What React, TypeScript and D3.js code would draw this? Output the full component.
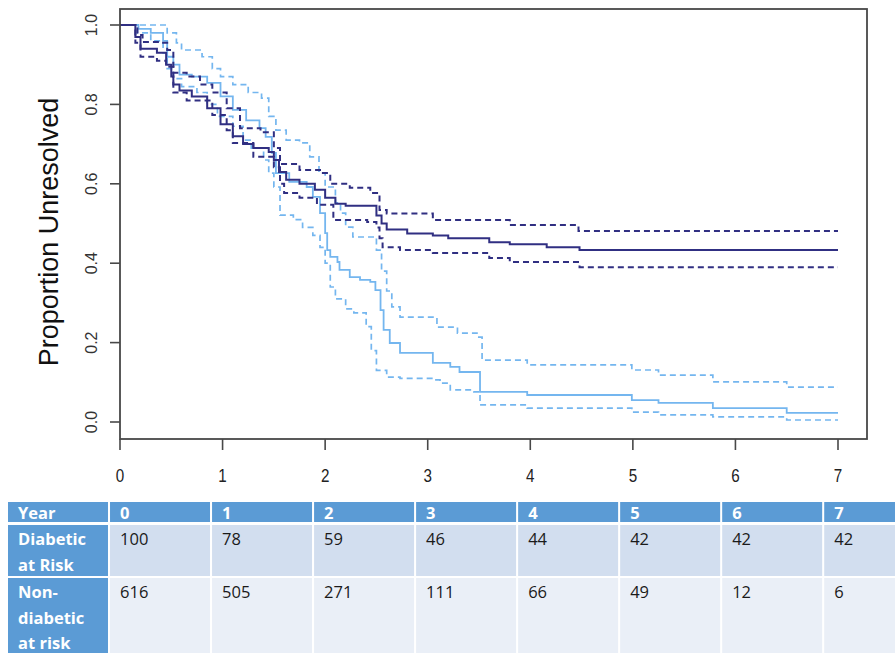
import React from "react";
import * as d3 from "d3";

// ---- axis ticks ----
const xTickValues = [0, 1, 2, 3, 4, 5, 6, 7];
const yTickValues = [0, 0.2, 0.4, 0.6, 0.8, 1.0];
const yTickLabels = ["0.0", "0.2", "0.4", "0.6", "0.8", "1.0"];

// ---- at-risk table ----
const tableYears = ["0", "1", "2", "3", "4", "5", "6", "7"];
const diabeticAtRisk = [100, 78, 59, 46, 44, 42, 42, 42];
const nonDiabeticAtRisk = [616, 505, 271, 111, 66, 49, 12, 6];
const rowLabels = [["Year"], ["Diabetic", "at Risk"], ["Non-", "diabetic", "at risk"]];

// ---- Kaplan-Meier curves: [year, proportion unresolved] ----
const diabeticEstimate: [number, number][] = [
  [0, 1.0], [0.15, 0.97], [0.2, 0.94], [0.36, 0.93], [0.45, 0.9], [0.5, 0.87], [0.52, 0.85],
  [0.58, 0.835], [0.7, 0.82], [0.85, 0.79], [0.98, 0.75], [1.1, 0.72], [1.2, 0.7], [1.3, 0.69],
  [1.45, 0.68], [1.5, 0.66], [1.55, 0.63], [1.62, 0.61], [1.75, 0.6], [1.9, 0.585], [2.0, 0.565],
  [2.1, 0.55], [2.2, 0.545], [2.5, 0.52], [2.55, 0.5], [2.6, 0.485], [2.8, 0.475], [3.05, 0.47],
  [3.2, 0.463], [3.6, 0.453], [3.8, 0.448], [4.16, 0.44], [4.48, 0.433], [7.0, 0.433],
];
const diabeticUpper: [number, number][] = [
  [0, 1.0], [0.17, 0.975], [0.22, 0.957], [0.39, 0.955], [0.46, 0.937], [0.52, 0.88], [0.65, 0.87],
  [0.78, 0.85], [0.9, 0.83], [1.04, 0.79], [1.17, 0.74], [1.37, 0.73], [1.5, 0.69], [1.56, 0.65],
  [1.75, 0.635], [1.95, 0.627], [2.05, 0.6], [2.24, 0.59], [2.44, 0.577], [2.53, 0.534],
  [2.6, 0.525], [3.05, 0.509], [3.8, 0.496], [4.47, 0.481], [7.0, 0.481],
];
const diabeticLower: [number, number][] = [
  [0, 1.0], [0.15, 0.955], [0.2, 0.92], [0.36, 0.91], [0.45, 0.895], [0.52, 0.83], [0.65, 0.81],
  [0.9, 0.773], [1.04, 0.735], [1.1, 0.703], [1.3, 0.668], [1.5, 0.642], [1.56, 0.6], [1.6, 0.577],
  [1.75, 0.565], [1.92, 0.547], [2.08, 0.509], [2.41, 0.504], [2.5, 0.49], [2.53, 0.463],
  [2.56, 0.44], [2.73, 0.433], [3.05, 0.426], [3.6, 0.413], [3.8, 0.403], [4.48, 0.39], [7.0, 0.39],
];
const nonDiabeticEstimate: [number, number][] = [
  [0, 1.0], [0.18, 0.99], [0.3, 0.98], [0.42, 0.96], [0.46, 0.92], [0.52, 0.9], [0.58, 0.875],
  [0.7, 0.87], [0.85, 0.854], [0.98, 0.82], [1.1, 0.786], [1.23, 0.76], [1.36, 0.74], [1.42, 0.718],
  [1.48, 0.678], [1.52, 0.627], [1.65, 0.605], [1.82, 0.592], [1.88, 0.567], [1.95, 0.526],
  [2.0, 0.476], [2.02, 0.433], [2.05, 0.416], [2.12, 0.403], [2.14, 0.383], [2.24, 0.365],
  [2.34, 0.358], [2.44, 0.353], [2.49, 0.332], [2.54, 0.282], [2.57, 0.232], [2.63, 0.199],
  [2.73, 0.174], [3.05, 0.149], [3.22, 0.139], [3.31, 0.126], [3.51, 0.076], [3.97, 0.068],
  [4.99, 0.055], [5.25, 0.048], [5.78, 0.035], [6.5, 0.023], [7.0, 0.023],
];
const nonDiabeticUpper: [number, number][] = [
  [0, 1.0], [0.46, 0.98], [0.55, 0.955], [0.6, 0.937], [0.8, 0.92], [0.9, 0.89], [0.98, 0.87],
  [1.1, 0.85], [1.25, 0.83], [1.38, 0.816], [1.45, 0.77], [1.52, 0.735], [1.62, 0.71], [1.75, 0.703],
  [1.85, 0.668], [1.94, 0.627], [2.0, 0.592], [2.1, 0.552], [2.15, 0.526], [2.2, 0.491],
  [2.27, 0.466], [2.5, 0.433], [2.55, 0.38], [2.6, 0.33], [2.65, 0.29], [2.73, 0.264],
  [3.09, 0.239], [3.29, 0.224], [3.48, 0.214], [3.53, 0.156], [3.97, 0.144], [4.99, 0.131],
  [5.25, 0.118], [5.78, 0.101], [6.5, 0.088], [7.0, 0.088],
];
const nonDiabeticLower: [number, number][] = [
  [0, 1.0], [0.17, 0.98], [0.3, 0.96], [0.42, 0.93], [0.46, 0.89], [0.52, 0.865], [0.6, 0.845],
  [0.75, 0.83], [0.85, 0.8], [0.95, 0.77], [1.1, 0.745], [1.2, 0.71], [1.28, 0.69], [1.4, 0.66],
  [1.45, 0.627], [1.5, 0.592], [1.56, 0.521], [1.69, 0.51], [1.78, 0.49], [1.88, 0.47],
  [1.95, 0.44], [2.0, 0.4], [2.05, 0.34], [2.1, 0.31], [2.2, 0.285], [2.28, 0.275], [2.4, 0.24],
  [2.45, 0.18], [2.5, 0.13], [2.6, 0.113], [2.73, 0.11], [3.05, 0.106], [3.12, 0.098],
  [3.22, 0.081], [3.45, 0.076], [3.51, 0.043], [3.97, 0.035], [4.99, 0.025], [5.25, 0.018],
  [5.78, 0.013], [6.5, 0.005], [7.0, 0.005],
];

const DARK = "#302f82";
const LIGHT = "#74b6ef";
const AXIS = "#484848";

export default function App() {
  const W = 895;
  const H = 653;
  const box = { left: 120, right: 867, top: 9, bottom: 439 };
  const x = d3.scaleLinear().domain([0, 7]).range([120, 838]);
  const y = d3.scaleLinear().domain([0, 1]).range([422, 25]);
  const line = d3
    .line<[number, number]>()
    .x((d) => x(d[0]))
    .y((d) => y(d[1]))
    .curve(d3.curveStepAfter);

  const series = [
    { data: nonDiabeticLower, color: LIGHT, dash: "6,4", w: 1.7 },
    { data: nonDiabeticUpper, color: LIGHT, dash: "6,4", w: 1.7 },
    { data: nonDiabeticEstimate, color: LIGHT, dash: null, w: 1.8 },
    { data: diabeticLower, color: DARK, dash: "6,4", w: 2 },
    { data: diabeticUpper, color: DARK, dash: "6,4", w: 2 },
    { data: diabeticEstimate, color: DARK, dash: null, w: 2 },
  ];

  // table geometry
  const colKeys = ["label", ...tableYears];
  const col = d3.scaleBand<string>().domain(colKeys).range([8, 8 + 9 * 101.8]).paddingInner(0.02);
  const rows = [
    { top: 502, h: 20 },
    { top: 525, h: 51 },
    { top: 578, h: 80 },
  ];
  const rowValues: (string | number)[][] = [tableYears, diabeticAtRisk, nonDiabeticAtRisk];
  const rowFill = ["#5b9bd5", "#d2deef", "#eaeff7"];
  const tableFont = "'Open Sans', 'Liberation Sans', sans-serif";

  return (
    <svg
      width={W}
      height={H}
      style={{ position: "absolute", left: 0, top: 0, background: "#fff" }}
      fontFamily="'Liberation Sans', Arial, sans-serif"
    >
      <rect x={0} y={0} width={W} height={H} fill="#fff" />
      <defs>
        <clipPath id="plotclip">
          <rect x={box.left} y={box.top} width={box.right - box.left} height={box.bottom - box.top} />
        </clipPath>
      </defs>

      {/* curves */}
      <g clipPath="url(#plotclip)">
        {series.map((s, i) => (
          <path
            key={i}
            d={line(s.data) || ""}
            fill="none"
            stroke={s.color}
            strokeWidth={s.w}
            strokeDasharray={s.dash || undefined}
          />
        ))}
      </g>

      {/* box */}
      <rect
        x={box.left}
        y={box.top}
        width={box.right - box.left}
        height={box.bottom - box.top}
        fill="none"
        stroke={AXIS}
        strokeWidth={1.8}
      />

      {/* x axis */}
      {xTickValues.map((t) => (
        <g key={"xt" + t}>
          <line x1={x(t)} x2={x(t)} y1={box.bottom} y2={box.bottom + 11} stroke={AXIS} strokeWidth={1.6} />
          <text
            transform={`translate(${x(t)},482) scale(0.8,1)`}
            textAnchor="middle"
            fontSize={19}
            fill="#222"
          >
            {t}
          </text>
        </g>
      ))}

      {/* y axis */}
      {yTickValues.map((v, i) => (
        <g key={"yt" + i}>
          <line x1={box.left - 10} x2={box.left} y1={y(v)} y2={y(v)} stroke={AXIS} strokeWidth={1.6} />
          <text
            transform={`translate(97,${y(v)}) rotate(-90)`}
            textAnchor="middle"
            fontSize={16}
            fill="#333"
          >
            {yTickLabels[i]}
          </text>
        </g>
      ))}
      <text
        transform={`translate(58,232) rotate(-90)`}
        textAnchor="middle"
        fontSize={27}
        fill="#111"
      >
        Proportion Unresolved
      </text>

      {/* at-risk table */}
      <g fontFamily={tableFont} fontSize={16.5}>
        {rows.map((r, ri) =>
          colKeys.map((k, ci) => {
            const isLabel = ci === 0;
            const fill = ri === 0 || isLabel ? "#5b9bd5" : rowFill[ri];
            const lines = isLabel ? rowLabels[ri] : [String(rowValues[ri][ci - 1])];
            const bold = ri === 0 || isLabel;
            return (
              <g key={`c${ri}-${ci}`}>
                <rect x={col(k)} y={r.top} width={col.bandwidth()} height={r.h} fill={fill} />
                {lines.map((ln, li) => (
                  <text
                    key={li}
                    x={(col(k) || 0) + 10}
                    y={ri === 0 ? 519 : r.top + 20 + li * 25.5}
                    fill={bold ? "#ffffff" : "#1a1a1a"}
                    fontWeight={bold ? 700 : 400}
                  >
                    {ln}
                  </text>
                ))}
              </g>
            );
          })
        )}
      </g>
    </svg>
  );
}
